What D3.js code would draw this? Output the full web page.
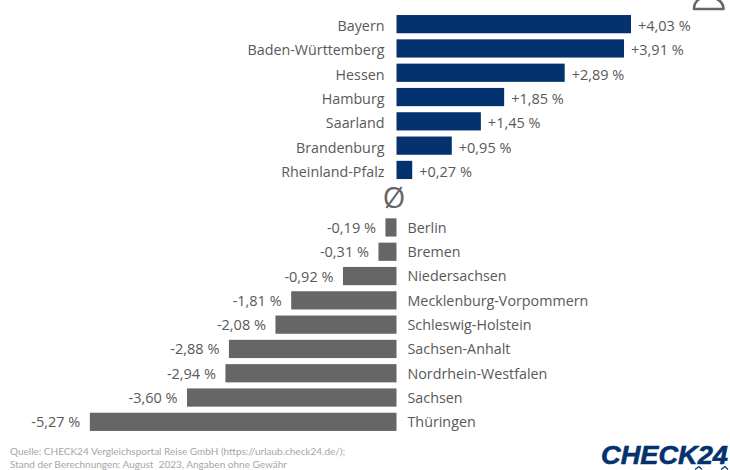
<!DOCTYPE html>
<html>
<head>
<meta charset="utf-8">
<script src="https://cdn.jsdelivr.net/npm/d3@7"></script>
<style>
  html, body { margin: 0; padding: 0; background: #fff; }
  svg { display: block; }
  text { font-family: "Open Sans", sans-serif; }
</style>
</head>
<body>
<div id="chart"></div>
<script>
const upStates = ["Bayern", "Baden-Württemberg", "Hessen", "Hamburg", "Saarland", "Brandenburg", "Rheinland-Pfalz"];
const upValues = [4.03, 3.91, 2.89, 1.85, 1.45, 0.95, 0.27];

const downStates = ["Berlin", "Bremen", "Niedersachsen", "Mecklenburg-Vorpommern", "Schleswig-Holstein", "Sachsen-Anhalt", "Nordrhein-Westfalen", "Sachsen", "Thüringen"];
const downValues = [-0.19, -0.31, -0.92, -1.81, -2.08, -2.88, -2.94, -3.60, -5.27];

const sourceLines = [
  "Quelle: CHECK24 Vergleichsportal Reise GmbH (https://urlaub.check24.de/);",
  "Stand der Berechnungen: August  2023, Angaben ohne Gewähr"
];

const width = 730;
const height = 470;
const blue = "#04326e";
const grey = "#666666";
const textGrey = "#595959";
const labelSize = "14.3px";

const svg = d3.select("#chart").append("svg")
  .attr("width", width)
  .attr("height", height);

const x = d3.scaleLinear().domain([0, 4.03]).range([396.5, 631]);

const yUp = d3.scaleBand().domain(upStates).range([12, 182.1]).paddingInner(0.25).paddingOuter(0.125);
const yDown = d3.scaleBand().domain(downStates).range([215.3, 434]).paddingInner(0.25).paddingOuter(0.125);

const fmt = v => (v > 0 ? "+" : "-") + Math.abs(v).toFixed(2).replace(".", ",") + " %";

const upData = upStates.map((s, i) => ({ state: s, value: upValues[i] }));
const downData = downStates.map((s, i) => ({ state: s, value: downValues[i] }));

// above average
svg.append("g").selectAll("rect")
  .data(upData)
  .enter().append("rect")
  .attr("x", x(0))
  .attr("y", d => yUp(d.state))
  .attr("width", d => x(d.value) - x(0))
  .attr("height", yUp.bandwidth())
  .style("fill", blue);

svg.append("g").selectAll("text")
  .data(upData)
  .enter().append("text")
  .attr("x", x(0) - 12)
  .attr("y", d => yUp(d.state) + yUp.bandwidth() / 2)
  .attr("dy", "0.48em")
  .attr("text-anchor", "end")
  .style("font-size", labelSize)
  .style("fill", textGrey)
  .text(d => d.state);

svg.append("g").selectAll("text")
  .data(upData)
  .enter().append("text")
  .attr("x", d => x(d.value) + 7)
  .attr("y", d => yUp(d.state) + yUp.bandwidth() / 2)
  .attr("dy", "0.48em")
  .style("font-size", "14.5px")
  .style("fill", textGrey)
  .text(d => fmt(d.value));

// below average
svg.append("g").selectAll("rect")
  .data(downData)
  .enter().append("rect")
  .attr("x", d => x(d.value))
  .attr("y", d => yDown(d.state))
  .attr("width", d => x(0) - x(d.value))
  .attr("height", yDown.bandwidth())
  .style("fill", grey);

svg.append("g").selectAll("text")
  .data(downData)
  .enter().append("text")
  .attr("x", x(0) + 11)
  .attr("y", d => yDown(d.state) + yDown.bandwidth() / 2)
  .attr("dy", "0.38em")
  .style("font-size", labelSize)
  .style("fill", textGrey)
  .text(d => d.state);

svg.append("g").selectAll("text")
  .data(downData)
  .enter().append("text")
  .attr("x", d => x(d.value) - 9.5)
  .attr("y", d => yDown(d.state) + yDown.bandwidth() / 2)
  .attr("dy", "0.38em")
  .attr("text-anchor", "end")
  .style("font-size", "14.5px")
  .style("fill", textGrey)
  .text(d => fmt(d.value));

// average marker
svg.append("text")
  .attr("x", 394)
  .attr("y", 208)
  .attr("text-anchor", "middle")
  .style("font-size", "29px")
  .style("fill", grey)
  .text("Ø");

// cut-off icon, top right
svg.append("path")
  .attr("d", "M694 9 C694 2 699 -3 708 -3 C717 -3 723.5 2 723.5 9 Z")
  .style("fill", "none")
  .style("stroke", grey)
  .style("stroke-width", 2.6)
  .style("stroke-linejoin", "round");

// source
svg.append("g").selectAll("text")
  .data(sourceLines)
  .enter().append("text")
  .attr("x", 10)
  .attr("y", (d, i) => 455 + i * 13)
  .style("font-family", "Lato, sans-serif")
  .style("font-size", "10px")
  .style("fill", "#a6a6a6")
  .style("white-space", "pre")
  .text(d => d);

// logo
svg.append("text")
  .attr("x", 601)
  .attr("y", 463.5)
  .attr("textLength", 127)
  .attr("lengthAdjust", "spacingAndGlyphs")
  .style("font-family", "'Liberation Sans', sans-serif")
  .style("font-weight", "bold")
  .style("font-style", "italic")
  .style("font-size", "26px")
  .style("fill", blue)
  .style("stroke", blue)
  .style("stroke-width", 0.6)
  .text("CHECK24");

// small ticks under the logo digits
svg.append("path")
  .attr("d", "M695 469.5 L699 466.5 L702 469.5 M721 469.5 L725 466.5 L728 469.5")
  .style("fill", "none")
  .style("stroke", blue)
  .style("stroke-width", 1.2);
</script>
</body>
</html>
